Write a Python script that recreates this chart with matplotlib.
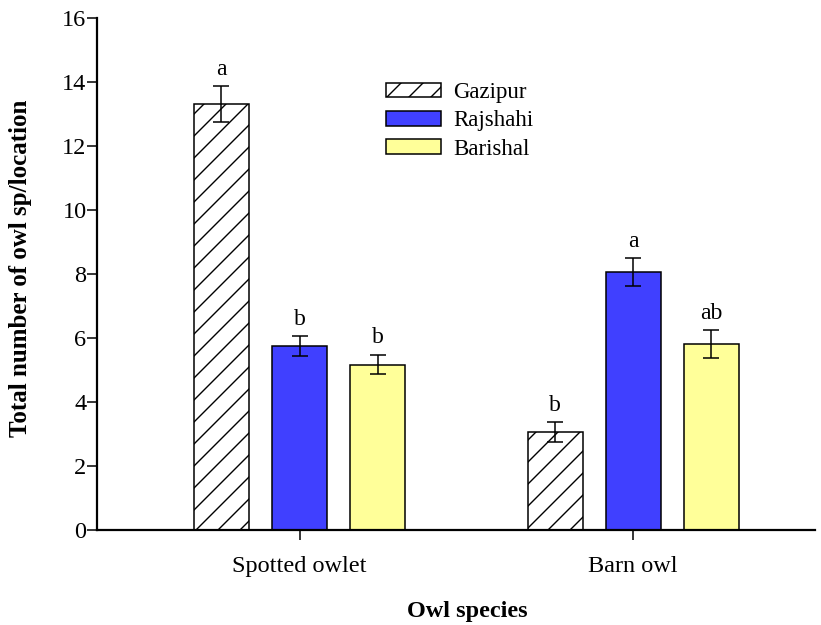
import numpy as np
import matplotlib.pyplot as plt

# Data
species = ['Spotted owlet', 'Barn owl']
locations = ['Gazipur', 'Rajshahi', 'Barishal']
gazipur = [13.3, 3.05]
rajshahi = [5.75, 8.05]
barishal = [5.17, 5.8]
gazipur_err = [0.56, 0.31]
rajshahi_err = [0.31, 0.44]
barishal_err = [0.31, 0.44]
gazipur_sig = ['a', 'b']
rajshahi_sig = ['b', 'a']
barishal_sig = ['b', 'ab']

# higher dpi -> sparser hatch lines; S keeps sizes as if drawn at 100 dpi
DPI = 132
S = 100 / DPI

plt.rcParams['font.family'] = ['Liberation Serif', 'DejaVu Serif']
plt.rcParams['hatch.linewidth'] = 1.0 * S

fig = plt.figure(figsize=(821 / DPI, 625 / DPI), dpi=DPI)
ax = fig.add_axes([97 / 821, 1 - 530 / 625, (815 - 97) / 821, (530 - 18) / 625])

x = np.arange(len(species))
offset = 0.234
width = 0.165

series = [
    (gazipur, gazipur_err, gazipur_sig, dict(color='white', hatch='//')),
    (rajshahi, rajshahi_err, rajshahi_sig, dict(color='#4040ff')),
    (barishal, barishal_err, barishal_sig, dict(color='#ffff99')),
]

for k, (vals, errs, sigs, style) in enumerate(series):
    xpos = x + (k - 1) * offset
    ax.bar(xpos, vals, width, edgecolor='black', linewidth=1.1 * S,
           label=locations[k], zorder=2, **style)
    ax.errorbar(xpos, vals, yerr=errs, fmt='none', ecolor='black',
                elinewidth=1.1 * S, capsize=6 * S, capthick=1.1 * S, zorder=3)
    for xi, v, e, s in zip(xpos, vals, errs, sigs):
        ax.text(xi, v + e + 0.2, s, ha='center', va='bottom', fontsize=17 * S)

ax.set_xlim(-0.607, 1.545)
ax.set_ylim(0, 16)
ax.set_yticks(np.arange(0, 17, 2))
ax.set_xticks(x)
ax.set_xticklabels(species)

for side in ['top', 'right']:
    ax.spines[side].set_visible(False)
for side in ['left', 'bottom']:
    ax.spines[side].set_linewidth(1.6 * S)

ax.tick_params(axis='both', direction='out', length=7 * S, width=1.1 * S,
               labelsize=17.5 * S)
ax.tick_params(axis='y', pad=0.5 * S)
ax.tick_params(axis='x', pad=12 * S)

ax.set_ylabel('Total number of owl sp/location', fontsize=18 * S,
              fontweight='bold')
ax.yaxis.set_label_coords(-(97 - 21) / 718, (530 - 268) / 512)
ax.set_xlabel('Owl species', fontsize=17.5 * S, fontweight='bold')
ax.xaxis.set_label_coords((467 - 97) / 718, -(611 - 530) / 512)
ax.xaxis.label.set_va('center')
ax.yaxis.label.set_va('center')

ax.legend(loc='upper left', bbox_to_anchor=(386 / 821, 1 - 82 / 625),
          bbox_transform=fig.transFigure, frameon=False, fontsize=16.5 * S,
          handlelength=2.4, handleheight=0.6, handletextpad=0.55,
          labelspacing=0.32, borderpad=0, borderaxespad=0)

fig.savefig('out.png', dpi=DPI)
